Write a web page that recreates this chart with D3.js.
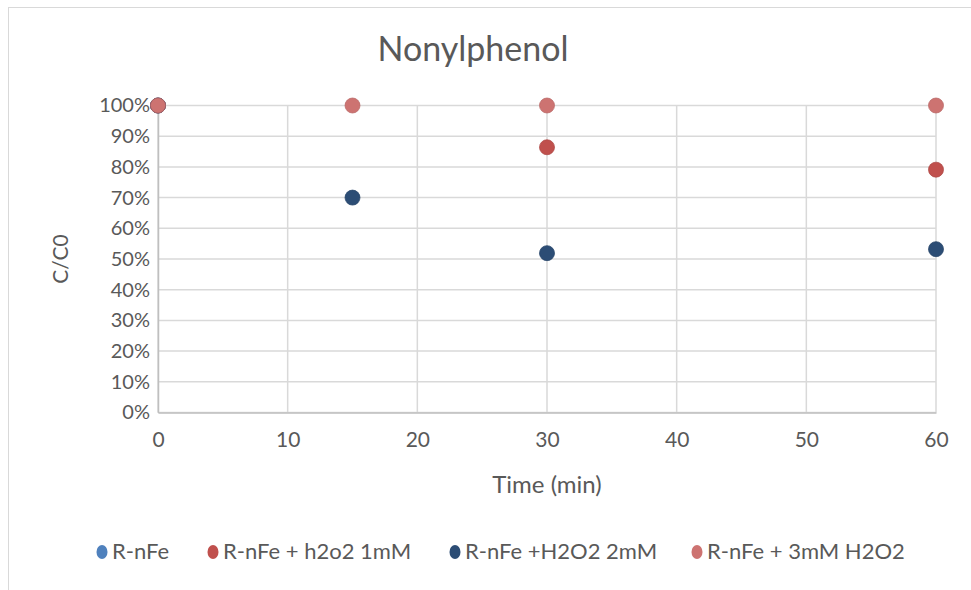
<!DOCTYPE html>
<html>
<head>
<meta charset="utf-8">
<script src="https://cdn.jsdelivr.net/npm/d3@7"></script>
<style>
  html, body { margin: 0; padding: 0; background: #fff; }
  svg { display: block; }
  text { font-family: Lato, "Open Sans", sans-serif; fill: #595959; }
</style>
</head>
<body>
<svg id="chart" width="971" height="590"></svg>
<script>
// Sampling times (min)
const timePoints = [0, 15, 30, 60];
// Series names, as shown in the legend
const seriesNames = ["R-nFe", "R-nFe + h2o2 1mM", "R-nFe +H2O2 2mM", "R-nFe + 3mM H2O2"];
const seriesColors = ["#4F81BD", "#C0504D", "#2C4D75", "#CD7371"];
// C/C0 values per series (null = not measured)
const rnfe      = [1.00, null, null, null];
const h2o2_1mM  = [1.00, null, 0.864, 0.791];
const h2o2_2mM  = [1.00, 0.700, 0.519, 0.532];
const h2o2_3mM  = [1.00, 1.00, 1.00, 1.00];
const seriesValues = [rnfe, h2o2_1mM, h2o2_2mM, h2o2_3mM];
// Axis ticks
const xTicks = [0, 10, 20, 30, 40, 50, 60];
const yTicks = [0, 0.1, 0.2, 0.3, 0.4, 0.5, 0.6, 0.7, 0.8, 0.9, 1.0];

const svg = d3.select("#chart");

// chart frame
svg.append("rect")
  .attr("x", 8.5).attr("y", 7.5)
  .attr("width", 1000).attr("height", 1000)
  .attr("fill", "none").attr("stroke", "#d9d9d9").attr("stroke-width", 1);

const plot = { left: 158, right: 936, top: 105.5, bottom: 412.5 };
const x = d3.scaleLinear().domain([0, 60]).range([plot.left, plot.right]);
const y = d3.scaleLinear().domain([0, 1]).range([plot.bottom, plot.top]);

// gridlines
const grid = svg.append("g");
grid.selectAll(".hg").data(yTicks).join("line")
  .attr("x1", plot.left).attr("x2", plot.right)
  .attr("y1", d => y(d)).attr("y2", d => y(d))
  .attr("stroke", "#d9d9d9").attr("stroke-width", 1.5);
grid.selectAll(".vg").data(xTicks).join("line")
  .attr("x1", d => x(d)).attr("x2", d => x(d))
  .attr("y1", plot.top).attr("y2", plot.bottom)
  .attr("stroke", "#d9d9d9").attr("stroke-width", 1.5);

// axes (labels only; lines come from the grid)
const xAxis = d3.axisBottom(x).tickValues(xTicks).tickSize(0).tickPadding(20);
const gx = svg.append("g").attr("transform", `translate(0,${plot.bottom})`).call(xAxis);
gx.select(".domain").attr("stroke", "#bfbfbf").attr("stroke-width", 1.5);
gx.selectAll("text").style("font-size", "21px").attr("fill", "#595959");

const yAxis = d3.axisLeft(y).tickValues(yTicks).tickSize(0).tickPadding(8)
  .tickFormat(d3.format(".0%"));
const gy = svg.append("g").attr("transform", `translate(${plot.left},0)`).call(yAxis);
gy.select(".domain").attr("stroke", "#bfbfbf").attr("stroke-width", 1.5);
gy.selectAll("text").style("font-size", "20px").attr("fill", "#595959");

// title
svg.append("text")
  .attr("x", 473).attr("y", 61)
  .attr("text-anchor", "middle")
  .style("font-size", "34px")
  .text("Nonylphenol");

// axis titles
svg.append("text")
  .attr("x", 547).attr("y", 493)
  .attr("text-anchor", "middle")
  .style("font-size", "24px")
  .text("Time (min)");
svg.append("text")
  .attr("transform", "translate(68,259) rotate(-90)")
  .attr("text-anchor", "middle")
  .style("font-size", "21px")
  .text("C/C0");

// markers
seriesValues.forEach((vals, i) => {
  const pts = timePoints.map((t, j) => ({ t, v: vals[j] })).filter(d => d.v !== null);
  svg.append("g").selectAll("circle").data(pts).join("circle")
    .attr("cx", d => x(d.t)).attr("cy", d => y(d.v))
    .attr("r", 7.5)
    .attr("fill", seriesColors[i])
    .attr("stroke", d3.color(seriesColors[i]).darker(0.3))
    .attr("stroke-width", 0.75);
});

// legend
const legendX = [102, 213, 455, 697];
const legend = svg.append("g");
seriesNames.forEach((name, i) => {
  legend.append("ellipse")
    .attr("cx", legendX[i]).attr("cy", 552)
    .attr("rx", 5.5).attr("ry", 7)
    .attr("fill", seriesColors[i]);
  legend.append("text")
    .attr("x", legendX[i] + 10).attr("y", 559)
    .style("font-size", "22px")
    .text(name);
});
</script>
</body>
</html>
